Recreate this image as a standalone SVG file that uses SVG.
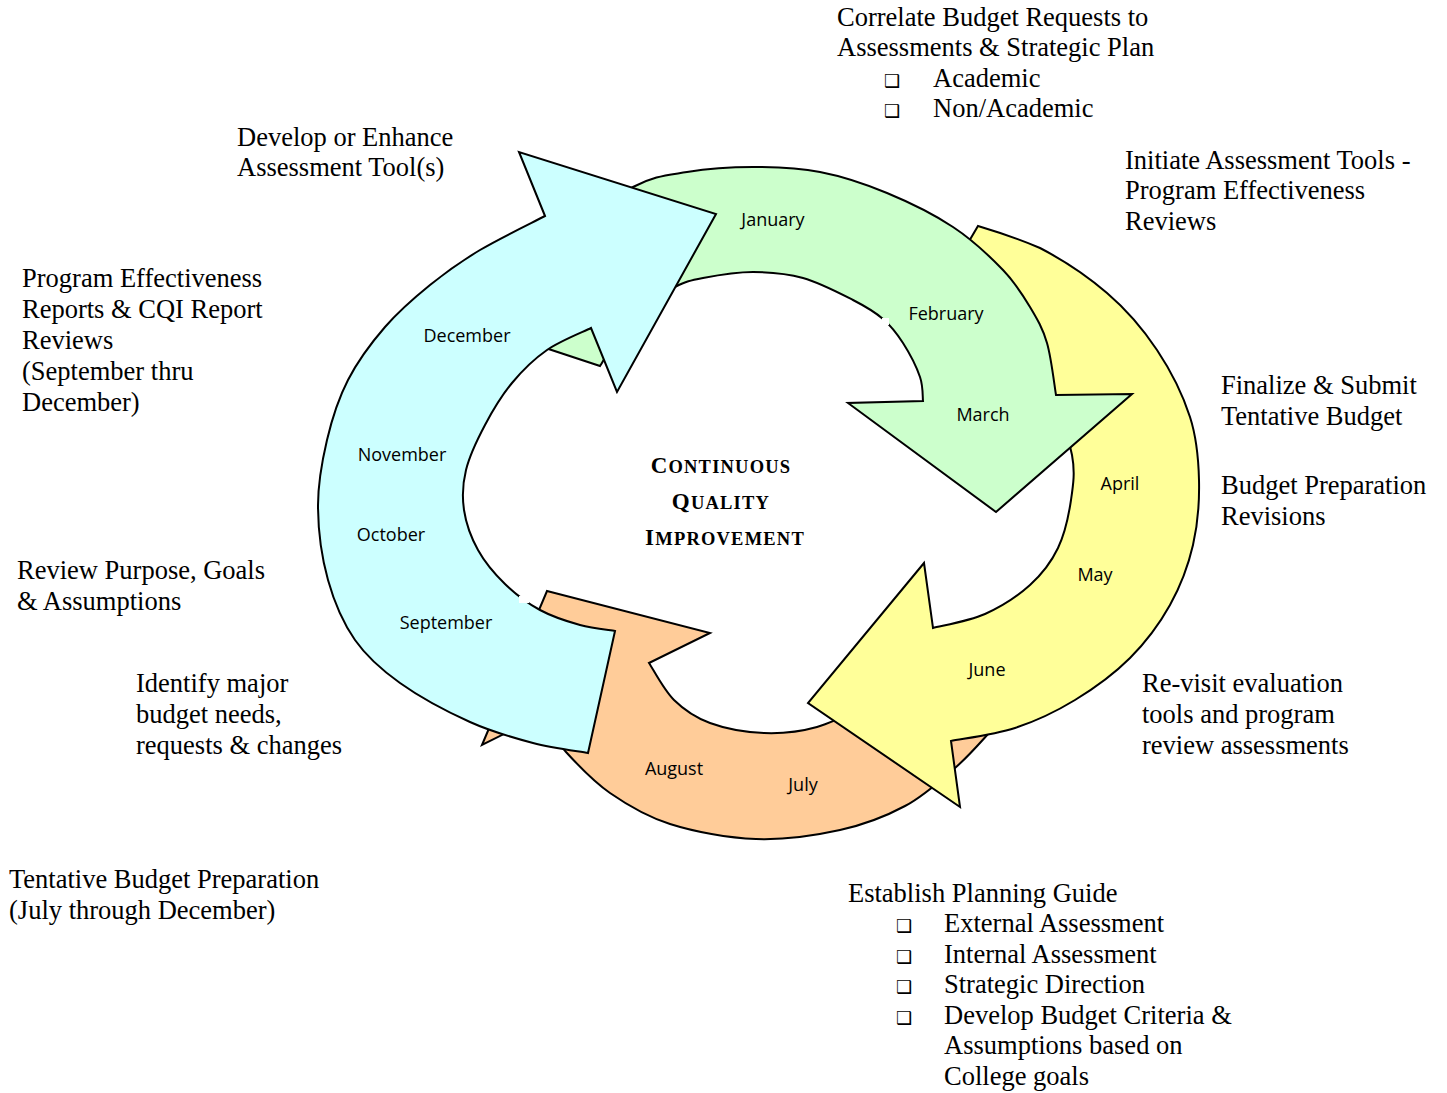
<svg xmlns="http://www.w3.org/2000/svg" width="1447" height="1093" viewBox="0 0 1447 1093">
<style>
.arrow{stroke:#000;stroke-width:2;stroke-linejoin:miter}
.m{font-family:"Open Sans","Liberation Sans",sans-serif;font-size:18px;fill:#000;text-anchor:middle}
.t{font-family:"Liberation Serif","Times New Roman",serif;font-size:26.5px;fill:#000}
.b{font-family:"DejaVu Sans",sans-serif;font-size:18px;fill:#000}
.title{font-family:"Liberation Serif","Times New Roman",serif;font-weight:bold;text-anchor:middle;letter-spacing:1.2px;fill:#000}
.gap{fill:#fff;stroke:none}
</style>
<rect width="1447" height="1093" fill="#fff"/>
<g id="connectors">
<g id="arrow-jul-aug">
<path class="arrow" fill="#FFCC99" d="M 547,591 L 710,633 L 649,663 C 653.2,669.2 663.8,690 674,700 C 684.2,710 695,717.5 710,723 C 725,728.5 746.2,732.3 764,733 C 781.8,733.7 798.5,732.2 817,727 C 835.5,721.8 865.3,706.2 875,702 L 1010,708 C 1006.5,712.2 998.2,723 989,733 C 979.8,743 969,755.8 955,768 C 941,780.2 924.2,795.7 905,806 C 885.8,816.3 864.8,824.5 840,830 C 815.2,835.5 784.3,840 756,839 C 727.7,838 694.3,831.7 670,824 C 645.7,816.3 627.3,805 610,793 C 592.7,781 577.7,764.8 566,752 C 554.3,739.2 544.3,722 540,716 L 482,745 Z"/>
<text class="m" x="674" y="775">August</text>
<text class="m" x="803" y="791">July</text>
</g>
<g id="arrow-apr-jun">
<path class="arrow" fill="#FFFF99" d="M 978,226 C 988,229 1018.3,238.7 1040,248 C 1061.7,259.3 1087.5,276.3 1107,293 C 1126.5,309.7 1143.2,329.3 1157,350 C 1170.8,370.7 1183,395.3 1190,417 C 1197,438.7 1198.5,458.7 1199,480 C 1199.5,501.3 1197.8,524.2 1193,545 C 1188.2,565.8 1180.5,586.2 1170,605 C 1159.5,623.8 1145.8,642.2 1130,658 C 1114.2,673.8 1094.2,688.3 1075,700 C 1055.8,711.7 1035.7,721.2 1015,728 C 994.3,734.8 961.7,738.8 951,741 L 960,807 L 808,703 L 924,563 L 933,628 C 941.7,625.7 968.8,621.2 985,614 C 1001.2,606.8 1017.8,596 1030,585 C 1042.2,574 1051.2,562.2 1058,548 C 1064.8,533.8 1068.7,515.5 1071,500 C 1073.3,484.5 1075.2,472 1072,455 C 1068.8,438 1061.5,417.2 1052,398 C 1042.5,378.8 1027,356.3 1015,340 C 1003,323.7 991.7,309.7 980,300 C 968.3,290.3 950.8,285 945,282 Z"/>
<text class="m" x="1120" y="490">April</text>
<text class="m" x="1095" y="581">May</text>
<text class="m" x="987" y="676">June</text>
</g>
<g id="arrow-jan-mar">
<path class="arrow" fill="#CCFFCC" d="M 500,333 C 510,317.5 537.8,264.3 560,240 C 582.2,215.7 611.8,198.3 633,187 C 654.2,175.7 667,175.3 687,172 C 707,168.7 730.8,167 753,167 C 775.2,167 797.7,167.7 820,172 C 842.3,176.3 864.8,183.8 887,193 C 909.2,202.2 933.7,214.2 953,227 C 972.3,239.8 990.2,256.7 1003,270 C 1015.8,283.3 1022.7,294.8 1030,307 C 1037.3,319.2 1042.7,328.3 1047,343 C 1051.3,357.7 1054.5,386.3 1056,395 L 1132,394 L 996,512 L 848,403 L 923,401 C 922.5,397 923.3,386.7 920,377 C 916.7,367.3 909.2,352.7 903,343 C 896.8,333.3 891.3,326.2 883,319 C 874.7,311.8 866.3,306.8 853,300 C 839.7,293.2 819.7,282.7 803,278 C 786.3,273.3 769.7,272 753,272 C 736.3,272 716,275.5 703,278 C 690,280.5 686.3,281.3 675,287 C 663.7,292.7 647.5,298.8 635,312 C 622.5,325.2 605.8,357 600,366 Z"/>
<rect class="gap" x="882" y="318" width="7" height="7"/>
<text class="m" x="773" y="226">January</text>
<text class="m" x="946" y="320">February</text>
<text class="m" x="983" y="421">March</text>
</g>
<g id="arrow-sep-dec">
<path class="arrow" fill="#CCFFFF" d="M 545,216 L 519,152 L 716,214 L 617,392 L 591,328 C 583.7,331.7 560.2,340.8 547,350 C 533.8,359.2 522.3,370.5 512,383 C 501.7,395.5 492.7,410.5 485,425 C 477.3,439.5 469.5,455.8 466,470 C 462.5,484.2 462,496.7 464,510 C 466,523.3 471.2,537.7 478,550 C 484.8,562.3 494.7,574 505,584 C 515.3,594 527.5,603.2 540,610 C 552.5,616.8 567.5,621.5 580,625 C 592.5,628.5 609.2,630 615,631 L 588,753 C 578.8,751.3 552.7,748.2 533,743 C 513.3,737.8 492.2,732 470,722 C 447.8,712 419.2,696.7 400,683 C 380.8,669.3 367,657.2 355,640 C 343,622.8 334.2,602.2 328,580 C 321.8,557.8 318.2,530.3 318,507 C 317.8,483.7 322,461.2 327,440 C 332,418.8 338.3,398.8 348,380 C 357.7,361.2 371.3,342.8 385,327 C 398.7,311.2 414.2,297.8 430,285 C 445.8,272.2 460.8,261.5 480,250 C 499.2,238.5 534.2,221.7 545,216 Z"/>
<rect class="gap" x="519" y="596" width="10" height="7"/>
<text class="m" x="467" y="342">December</text>
<text class="m" x="402" y="461">November</text>
<text class="m" x="391" y="541">October</text>
<text class="m" x="446" y="629">September</text>
</g>
</g>
<g id="center-title">
<text class="title" x="721" y="473"><tspan font-size="23">C</tspan><tspan font-size="18.5">ONTINUOUS</tspan></text>
<text class="title" x="721" y="509"><tspan font-size="23">Q</tspan><tspan font-size="18.5">UALITY</tspan></text>
<text class="title" x="725" y="545"><tspan font-size="23">I</tspan><tspan font-size="18.5">MPROVEMENT</tspan></text>
</g>
<g id="note-correlate">
<text class="t" x="837" y="26">Correlate Budget Requests to</text>
<text class="t" x="837" y="56">Assessments &amp; Strategic Plan</text>
<text class="b" x="884" y="87">❑</text>
<text class="t" x="933" y="87">Academic</text>
<text class="b" x="884" y="117">❑</text>
<text class="t" x="933" y="117">Non/Academic</text>
</g>
<g id="note-develop">
<text class="t" x="237" y="146">Develop or Enhance</text>
<text class="t" x="237" y="176">Assessment Tool(s)</text>
</g>
<g id="note-initiate">
<text class="t" x="1125" y="169">Initiate Assessment Tools -</text>
<text class="t" x="1125" y="199">Program Effectiveness</text>
<text class="t" x="1125" y="230">Reviews</text>
</g>
<g id="note-program">
<text class="t" x="22" y="287">Program Effectiveness</text>
<text class="t" x="22" y="318">Reports &amp; CQI Report</text>
<text class="t" x="22" y="349">Reviews</text>
<text class="t" x="22" y="380">(September thru</text>
<text class="t" x="22" y="411">December)</text>
</g>
<g id="note-finalize">
<text class="t" x="1221" y="394">Finalize &amp; Submit</text>
<text class="t" x="1221" y="425">Tentative Budget</text>
</g>
<g id="note-revisions">
<text class="t" x="1221" y="494">Budget Preparation</text>
<text class="t" x="1221" y="525">Revisions</text>
</g>
<g id="note-review">
<text class="t" x="17" y="579">Review Purpose, Goals</text>
<text class="t" x="17" y="610">&amp; Assumptions</text>
</g>
<g id="note-identify">
<text class="t" x="136" y="692">Identify major</text>
<text class="t" x="136" y="723">budget needs,</text>
<text class="t" x="136" y="754">requests &amp; changes</text>
</g>
<g id="note-revisit">
<text class="t" x="1142" y="692">Re-visit evaluation</text>
<text class="t" x="1142" y="723">tools and program</text>
<text class="t" x="1142" y="754">review assessments</text>
</g>
<g id="note-tentative">
<text class="t" x="9" y="888">Tentative Budget Preparation</text>
<text class="t" x="9" y="919">(July through December)</text>
</g>
<g id="note-establish">
<text class="t" x="848" y="902">Establish Planning Guide</text>
<text class="b" x="896" y="932">❑</text>
<text class="t" x="944" y="932">External Assessment</text>
<text class="b" x="896" y="963">❑</text>
<text class="t" x="944" y="963">Internal Assessment</text>
<text class="b" x="896" y="993">❑</text>
<text class="t" x="944" y="993">Strategic Direction</text>
<text class="b" x="896" y="1024">❑</text>
<text class="t" x="944" y="1024">Develop Budget Criteria &amp;</text>
<text class="t" x="944" y="1054">Assumptions based on</text>
<text class="t" x="944" y="1085">College goals</text>
</g>
</svg>
